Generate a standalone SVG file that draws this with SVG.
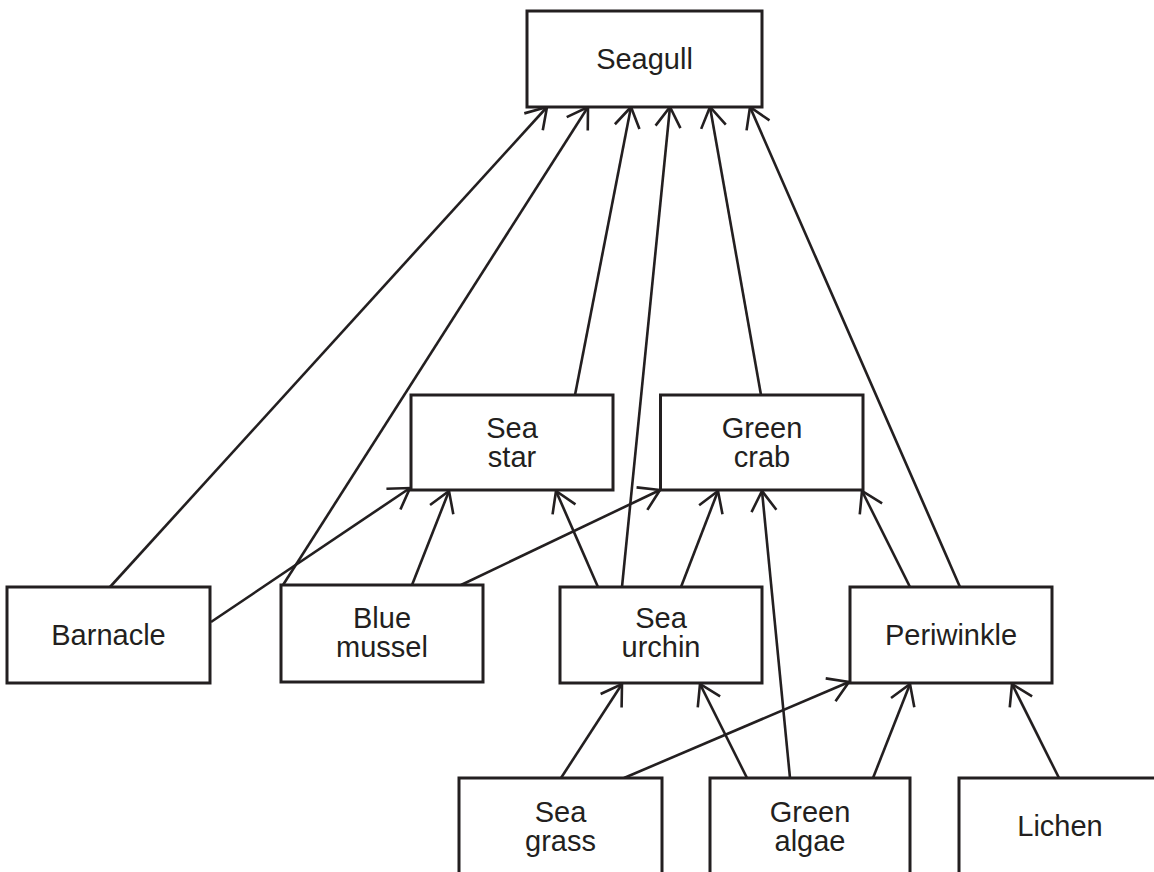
<svg xmlns="http://www.w3.org/2000/svg" width="1154" height="872" viewBox="0 0 1154 872">
<style>
.box{fill:#fff;stroke:#231f20;stroke-width:3}
.lbl{font-family:"Liberation Sans",Arial,sans-serif;font-size:29px;fill:#231f20;text-anchor:middle}
.edge{stroke:#231f20;stroke-width:2.6;fill:none;marker-end:url(#arr)}
</style>
<defs>
<marker id="arr" markerUnits="userSpaceOnUse" orient="auto" markerWidth="40" markerHeight="40" refX="0" refY="0" overflow="visible">
<path d="M -20 -12.5 L 0 0 L -20 12.5" fill="none" stroke="#231f20" stroke-width="2.6"/>
</marker>
</defs>
<rect width="1154" height="872" fill="#fff"/>
<g id="connectors">
<line class="edge" x1="110" y1="587" x2="547" y2="107"/>
<line class="edge" x1="283" y1="585" x2="588" y2="107"/>
<line class="edge" x1="575" y1="395" x2="631" y2="107"/>
<line class="edge" x1="622" y1="587" x2="670" y2="107"/>
<line class="edge" x1="761" y1="395" x2="710" y2="107"/>
<line class="edge" x1="960" y1="587" x2="750" y2="107"/>
<line class="edge" x1="211" y1="622" x2="410" y2="488"/>
<line class="edge" x1="412" y1="585" x2="449" y2="491"/>
<line class="edge" x1="598" y1="587" x2="556" y2="491"/>
<line class="edge" x1="461" y1="585" x2="660" y2="490"/>
<line class="edge" x1="681" y1="587" x2="718" y2="491"/>
<line class="edge" x1="790" y1="778" x2="762" y2="491"/>
<line class="edge" x1="910" y1="587" x2="862" y2="491"/>
<line class="edge" x1="561" y1="778" x2="622" y2="684"/>
<line class="edge" x1="747" y1="778" x2="700" y2="684"/>
<line class="edge" x1="624" y1="778" x2="849" y2="682"/>
<line class="edge" x1="873" y1="778" x2="910" y2="684"/>
<line class="edge" x1="1059" y1="778" x2="1012" y2="684"/>
</g>
<g id="seagull"><rect class="box" x="527" y="11" width="235" height="96"/><text class="lbl" x="644.5" y="69">Seagull</text></g>
<g id="sea-star"><rect class="box" x="411" y="395" width="202" height="95"/><text class="lbl" x="512" y="438">Sea<tspan x="512" dy="29">star</tspan></text></g>
<g id="green-crab"><rect class="box" x="660.5" y="395" width="202.5" height="95"/><text class="lbl" x="762" y="438">Green<tspan x="762" dy="29">crab</tspan></text></g>
<g id="barnacle"><rect class="box" x="7" y="587" width="203" height="96"/><text class="lbl" x="108.5" y="645">Barnacle</text></g>
<g id="blue-mussel"><rect class="box" x="281" y="585" width="202" height="97"/><text class="lbl" x="382" y="628">Blue<tspan x="382" dy="29">mussel</tspan></text></g>
<g id="sea-urchin"><rect class="box" x="560" y="587" width="202" height="96"/><text class="lbl" x="661" y="628">Sea<tspan x="661" dy="29">urchin</tspan></text></g>
<g id="periwinkle"><rect class="box" x="850" y="587" width="202" height="96"/><text class="lbl" x="951" y="645">Periwinkle</text></g>
<g id="sea-grass"><rect class="box" x="459" y="778" width="203" height="110"/><text class="lbl" x="560.5" y="822">Sea<tspan x="560.5" dy="29">grass</tspan></text></g>
<g id="green-algae"><rect class="box" x="710" y="778" width="200" height="110"/><text class="lbl" x="810" y="822">Green<tspan x="810" dy="29">algae</tspan></text></g>
<g id="lichen"><rect class="box" x="959" y="778" width="202" height="110"/><text class="lbl" x="1060" y="836">Lichen</text></g>
</svg>
